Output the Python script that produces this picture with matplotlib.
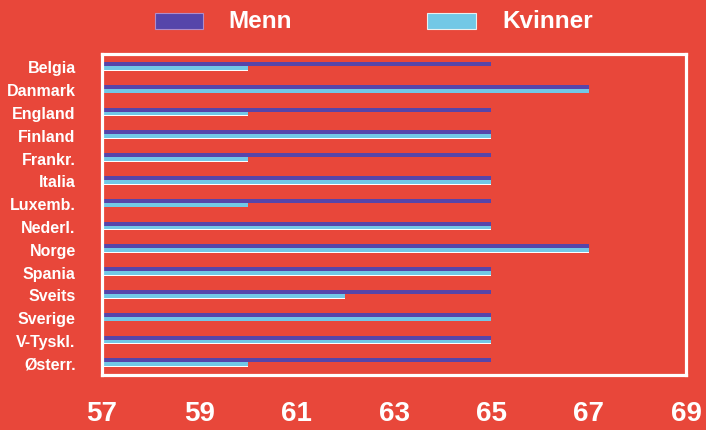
import matplotlib
matplotlib.use("Agg")
import matplotlib.pyplot as plt
import numpy as np

countries = ["Belgia", "Danmark", "England", "Finland", "Frankr.", "Italia",
             "Luxemb.", "Nederl.", "Norge", "Spania", "Sveits", "Sverige",
             "V-Tyskl.", "Østerr."]
menn = [65, 67, 65, 65, 65, 65, 65, 65, 67, 65, 65, 65, 65, 65]
kvinner = [60, 67, 60, 65, 60, 65, 60, 65, 67, 65, 62, 65, 65, 60]
xticks = [57, 59, 61, 63, 65, 67, 69]
legend_labels = ["Menn", "Kvinner"]

BG = "#E8473A"
PURPLE = "#5645AA"
CYAN = "#72C8E6"
WHITE = "#FFFFFF"
XMIN, XMAX = 57, 69

plt.rcParams["font.family"] = ["Liberation Sans", "DejaVu Sans"]

fig = plt.figure(figsize=(7.06, 4.30), dpi=100, facecolor=BG)
ax = fig.add_axes([0.1445, 0.1279, 0.8272, 0.7465])
ax.set_facecolor(BG)

y = np.arange(len(countries))
h = 0.17
# white underline beneath the Kvinner bar
ax.barh(y + 0.19, np.array(kvinner) - XMIN, left=XMIN, height=0.2,
        color=WHITE, linewidth=0)
ax.barh(y + h, np.array(kvinner) - XMIN, left=XMIN, height=h,
        color=CYAN, linewidth=0)
ax.barh(y, np.array(menn) - XMIN, left=XMIN, height=h,
        color=PURPLE, linewidth=0)

ax.set_xlim(XMIN, XMAX)
ax.set_ylim(13.64, -0.44)
ax.set_xticks(xticks)
ax.set_xticklabels([str(v) for v in xticks], fontsize=20, fontweight="bold",
                   color=WHITE)
ax.set_yticks(y + 0.15)
ax.set_yticklabels(countries, fontsize=11.5, fontweight="bold", color=WHITE)
ax.tick_params(axis="x", length=0, pad=19)
ax.tick_params(axis="y", length=0, pad=19)
for s in ax.spines.values():
    s.set_color(WHITE)
    s.set_linewidth(2.3)

# legend
fig.patches.append(matplotlib.patches.Rectangle(
    (155 / 706, 1 - 29 / 430), 48 / 706, 16 / 430, transform=fig.transFigure,
    facecolor=PURPLE, edgecolor="#B08CC8", linewidth=0.8))
fig.patches.append(matplotlib.patches.Rectangle(
    (427 / 706, 1 - 29 / 430), 49 / 706, 16 / 430, transform=fig.transFigure,
    facecolor=CYAN, edgecolor="#E8F0F0", linewidth=0.8))
fig.text(228 / 706, 1 - 21 / 430, legend_labels[0], fontsize=17.5,
         fontweight="bold", color=WHITE, va="center", ha="left")
fig.text(502 / 706, 1 - 21 / 430, legend_labels[1], fontsize=17.5,
         fontweight="bold", color=WHITE, va="center", ha="left")

fig.savefig("out.png", dpi=100, facecolor=BG)
